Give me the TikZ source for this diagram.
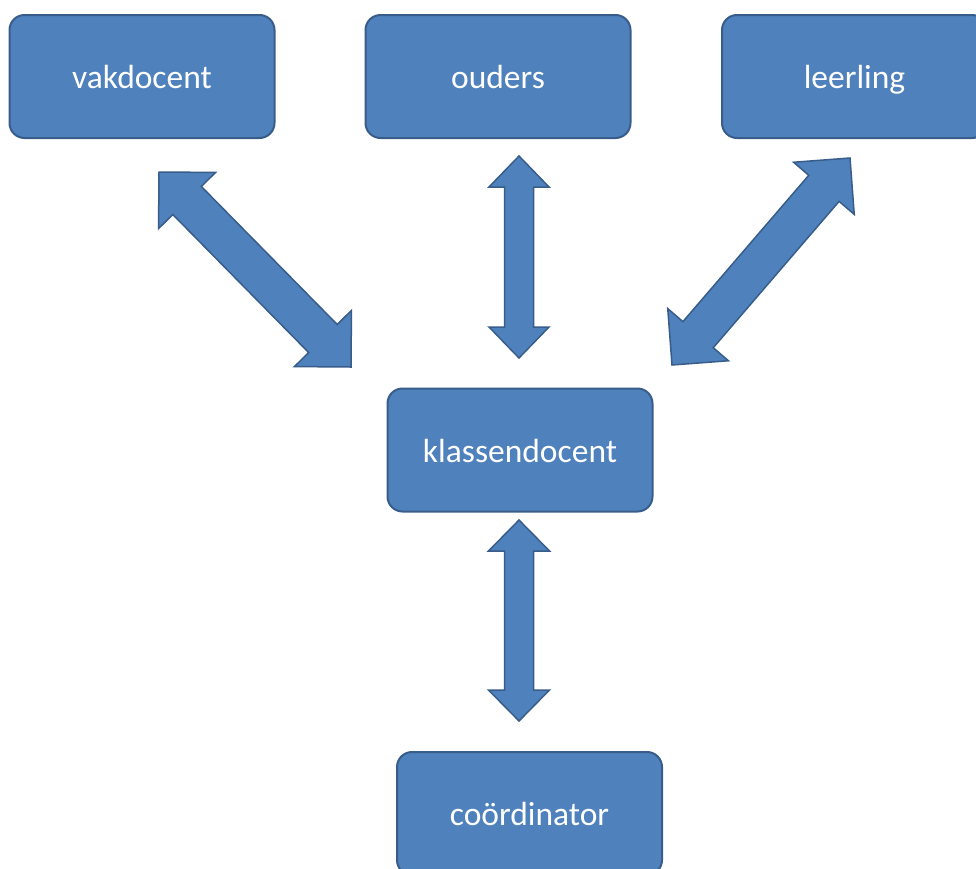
\documentclass[tikz,border=0pt]{standalone}
\usepackage{fontspec}
\setmainfont{Carlito}
\usetikzlibrary{calc}
\definecolor{boxfill}{HTML}{4F81BD}
\definecolor{boxline}{HTML}{385D8A}
\tikzset{
  boxnode/.style={draw=boxline, fill=boxfill, line width=2pt, rounded corners=15pt,
    minimum width=265pt, minimum height=123pt, inner sep=0pt, text=white,
    text height=30pt, text depth=6pt,
    font=\fontsize{33.5}{38}\selectfont},
  blockarrow/.style={draw=boxline, fill=boxfill, line width=1.5pt, line join=miter}
}
% #1,#2 end points; #3 shaft half width; #4 head half width; #5 head length
\newcommand\dblblockarrow[5]{%
  \path[blockarrow]
    ($(#1)!#5!(#2)!#3!90:(#2)$) -- ($(#1)!#5!(#2)!#4!90:(#2)$) -- (#1) --
    ($(#1)!#5!(#2)!#4!-90:(#2)$) -- ($(#1)!#5!(#2)!#3!-90:(#2)$) --
    ($(#2)!#5!(#1)!#3!90:(#1)$) -- ($(#2)!#5!(#1)!#4!90:(#1)$) -- (#2) --
    ($(#2)!#5!(#1)!#4!-90:(#1)$) -- ($(#2)!#5!(#1)!#3!-90:(#1)$) -- cycle;}
\begin{document}
\begin{tikzpicture}[x=1pt,y=-1pt]
  \useasboundingbox (0,0) rectangle (976,868);
  \clip (0,0) rectangle (976,868);
  \fill[white] (0,0) rectangle (976,868);
  \node[boxnode] (vak) at (142,76.5) {vakdocent};
  \node[boxnode] (oud) at (498,76.5) {ouders};
  \node[boxnode] (lee) at (854.5,76.5) {leerling};
  \node[boxnode] (kla) at (520,450) {klassendocent};
  \node[boxnode] (coo) at (529.5,813.5) {coördinator};
  % arrow end points
  \coordinate (l1) at (159,172);
  \coordinate (l2) at (351,367);
  \coordinate (m1) at (519,156);
  \coordinate (m2) at (519,358);
  \coordinate (r1) at (850,158);
  \coordinate (r2) at (672,365);
  \coordinate (b1) at (519,520);
  \coordinate (b2) at (519,721);
  \dblblockarrow{l1}{l2}{20pt}{40pt}{40pt}
  \dblblockarrow{r1}{r2}{20pt}{40pt}{40pt}
  \dblblockarrow{m1}{m2}{14.5pt}{30pt}{31pt}
  \dblblockarrow{b1}{b2}{14.5pt}{30.5pt}{31pt}
\end{tikzpicture}
\end{document}
